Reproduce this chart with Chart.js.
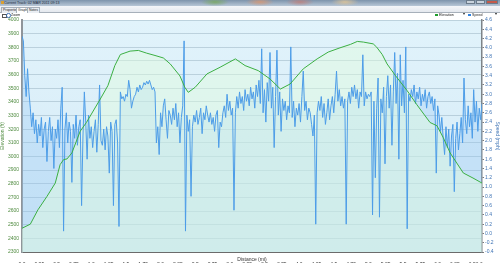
<!DOCTYPE html>
<html>
<head>
<meta charset="utf-8">
<script src="https://cdn.jsdelivr.net/npm/chart.js@4.4.1/dist/chart.umd.min.js"></script>
<style>
  html, body { margin: 0; padding: 0; background: #fff; overflow: hidden; }
  #wrap { position: relative; width: 500px; height: 263px; font-family: "Liberation Sans", Arial, sans-serif; }
  #chart { position: absolute; left: 0; top: 0; }
  #titlebar {
    position: absolute; left: 0; top: 0; width: 500px; height: 6px;
    background:
      radial-gradient(ellipse 14px 4px at 215px 2px, rgba(120,170,90,0.8), transparent),
      radial-gradient(ellipse 14px 4px at 260px 2px, rgba(220,150,110,0.8), transparent),
      radial-gradient(ellipse 14px 4px at 300px 2px, rgba(200,120,110,0.7), transparent),
      radial-gradient(ellipse 14px 4px at 345px 2px, rgba(230,200,150,0.8), transparent),
      linear-gradient(#7d93ab, #b7c6d6);
  }
  #titlebar .ttl { position: absolute; left: 4px; top: 0.5px; font-size: 3.6px; color: #1d2a38; }
  #titlebar .ico { position: absolute; left: 1px; top: 1px; width: 2.5px; height: 3px; background: #d9a032; }
  #titlebar .btn { position: absolute; top: 0; width: 9px; height: 4px; background: #c9d3dd; border: 0.5px solid #6b7b8b; box-sizing: border-box; }
  #tabs { position: absolute; left: 0; top: 6px; width: 500px; height: 6px; background: linear-gradient(#f4f6f9, #e4e8ee); border-bottom: 0.5px solid #a7b0ba; }
  #tabs span { position: absolute; top: 0.5px; height: 5px; font-size: 3.4px; line-height: 5px; padding: 0 1px; color: #222; border: 0.5px solid #a7b0ba; border-bottom: none; background: #e9edf2; }
  #tabs span.sel { background: #fff; }
  #tools { position: absolute; left: 0; top: 12px; width: 500px; height: 6px; }
  #tools .chk { position: absolute; left: 2px; top: 1.5px; width: 2.5px; height: 2.5px; border: 0.5px solid #555; }
  #tools .mag { position: absolute; left: 6px; top: 1px; width: 2.5px; height: 2.5px; border: 0.6px solid #3a6fb0; border-radius: 50%; }
  #tools .lbl { position: absolute; top: 0.6px; font-size: 3.6px; color: #222; }
  #tools .sq { position: absolute; top: 1.5px; width: 2.6px; height: 2.6px; }
  #tools .arr { position: absolute; top: 0.2px; font-size: 3.6px; color: #222; }
</style>
</head>
<body>
<div id="wrap">
  <canvas id="chart" width="500" height="263"></canvas>
  <div id="titlebar">
    <span class="ico"></span>
    <span class="ttl">Current Track: 02 MAR 2011 09:13</span>
    <span class="btn" style="left:466px"></span>
    <span class="btn" style="left:476px"></span>
    <span class="btn" style="left:486px; width:12px; background:#c45a4a"></span>
  </div>
  <div id="tabs">
    <span style="left:1px">Properties</span>
    <span class="sel" style="left:16px">Graph</span>
    <span style="left:27px">Notes</span>
  </div>
  <div id="tools">
    <span class="chk"></span>
    <span class="mag"></span>
    <span class="lbl" style="left:11px">Zoom</span>
    <span class="sq" style="left:435px; background:#1d9c2c"></span>
    <span class="lbl" style="left:439px">Elevation</span>
    <span class="arr" style="left:463px">&#9662;</span>
    <span class="sq" style="left:468px; background:#2f82e0"></span>
    <span class="lbl" style="left:472px">Speed</span>
    <span class="arr" style="left:495px">&#9662;</span>
  </div>
</div>
<script>
// elevation profile (miles, feet)
const elevMiles = [0, 0.12, 0.23, 0.36, 0.48, 0.55, 0.60, 0.65, 0.72, 0.84,
  0.93, 1.13, 1.24, 1.34, 1.42, 1.56, 1.68, 1.80, 1.92, 2.04,
  2.14, 2.28, 2.35, 2.40, 2.50, 2.67, 2.86, 3.08, 3.22, 3.41,
  3.58, 3.73, 3.87, 4.06, 4.26, 4.42, 4.59, 4.74, 4.84, 4.93,
  5.07, 5.12, 5.20, 5.27, 5.39, 5.56, 5.70, 5.89, 5.99, 6.08,
  6.18, 6.37, 6.51, 6.64];
const elevFeet = [2474, 2504, 2609, 2707, 2805, 2940, 2977, 2982, 3026, 3185,
  3249, 3421, 3519, 3666, 3747, 3772, 3777, 3757, 3740, 3722,
  3678, 3590, 3507, 3470, 3507, 3605, 3654, 3715, 3666, 3629,
  3568, 3494, 3531, 3642, 3715, 3765, 3796, 3821, 3843, 3838,
  3825, 3801, 3747, 3678, 3593, 3482, 3379, 3249, 3225, 3139,
  3026, 2879, 2842, 2805];

// speed samples (miles, mph)
const speedMiles = [
  0.00, 0.02, 0.04, 0.06, 0.08, 0.10, 0.12, 0.14, 0.16, 0.18,
  0.20, 0.22, 0.24, 0.26, 0.28, 0.30, 0.32, 0.34, 0.36, 0.38,
  0.40, 0.42, 0.44, 0.46, 0.48, 0.50, 0.52, 0.54, 0.56, 0.58,
  0.60, 0.62, 0.64, 0.66, 0.68, 0.70, 0.72, 0.74, 0.76, 0.78,
  0.80, 0.82, 0.84, 0.86, 0.88, 0.90, 0.92, 0.94, 0.96, 0.98,
  1.00, 1.02, 1.04, 1.06, 1.08, 1.10, 1.12, 1.14, 1.16, 1.18,
  1.20, 1.22, 1.24, 1.26, 1.28, 1.30, 1.32, 1.34, 1.36, 1.38,
  1.40, 1.42, 1.44, 1.46, 1.48, 1.50, 1.52, 1.54, 1.56, 1.58,
  1.60, 1.62, 1.64, 1.66, 1.68, 1.70, 1.72, 1.74, 1.76, 1.78,
  1.80, 1.82, 1.84, 1.86, 1.88, 1.90, 1.92, 1.94, 1.96, 1.98,
  2.00, 2.02, 2.04, 2.06, 2.08, 2.10, 2.12, 2.14, 2.16, 2.18,
  2.20, 2.22, 2.24, 2.26, 2.28, 2.30, 2.32, 2.34, 2.36, 2.38,
  2.40, 2.42, 2.44, 2.46, 2.48, 2.50, 2.52, 2.54, 2.56, 2.58,
  2.60, 2.62, 2.64, 2.66, 2.68, 2.70, 2.72, 2.74, 2.76, 2.78,
  2.80, 2.82, 2.84, 2.86, 2.88, 2.90, 2.92, 2.94, 2.96, 2.98,
  3.00, 3.02, 3.04, 3.06, 3.08, 3.10, 3.12, 3.14, 3.16, 3.18,
  3.20, 3.22, 3.24, 3.26, 3.28, 3.30, 3.32, 3.34, 3.36, 3.38,
  3.40, 3.42, 3.44, 3.46, 3.48, 3.50, 3.52, 3.54, 3.56, 3.58,
  3.60, 3.62, 3.64, 3.66, 3.68, 3.70, 3.72, 3.74, 3.76, 3.78,
  3.80, 3.82, 3.84, 3.86, 3.88, 3.90, 3.92, 3.94, 3.96, 3.98,
  4.00, 4.02, 4.04, 4.06, 4.08, 4.10, 4.12, 4.14, 4.16, 4.18,
  4.20, 4.22, 4.24, 4.26, 4.28, 4.30, 4.32, 4.34, 4.36, 4.38,
  4.40, 4.42, 4.44, 4.46, 4.48, 4.50, 4.52, 4.54, 4.56, 4.58,
  4.60, 4.62, 4.64, 4.66, 4.68, 4.70, 4.72, 4.74, 4.76, 4.78,
  4.80, 4.82, 4.84, 4.86, 4.88, 4.90, 4.92, 4.94, 4.96, 4.98,
  5.00, 5.02, 5.04, 5.06, 5.08, 5.10, 5.12, 5.14, 5.16, 5.18,
  5.20, 5.22, 5.24, 5.26, 5.28, 5.30, 5.32, 5.34, 5.36, 5.38,
  5.40, 5.42, 5.44, 5.46, 5.48, 5.50, 5.52, 5.54, 5.56, 5.58,
  5.60, 5.62, 5.64, 5.66, 5.68, 5.70, 5.72, 5.74, 5.76, 5.78,
  5.80, 5.82, 5.84, 5.86, 5.88, 5.90, 5.92, 5.94, 5.96, 5.98,
  6.00, 6.02, 6.04, 6.06, 6.08, 6.10, 6.12, 6.14, 6.16, 6.18,
  6.20, 6.22, 6.24, 6.26, 6.28, 6.30, 6.32, 6.34, 6.36, 6.38,
  6.40, 6.42, 6.44, 6.46, 6.48, 6.50, 6.52, 6.54, 6.56, 6.58,
  6.60, 6.62, 6.64];
const speedMph = [
  4.25, 4.15, 3.40, 2.95, 3.55, 3.05, 2.70, 2.30, 2.60, 2.15,
  2.45, 1.95, 2.35, 2.10, 2.50, 1.85, 2.25, 2.40, 1.55, 2.20,
  2.50, 2.00, 2.30, 1.40, 2.25, 2.05, 2.45, 1.85, 2.70, 3.15,
  0.05, 2.25, 2.60, 1.95, 2.40, 2.20, 1.10, 2.35, 2.05, 2.55,
  1.90, 2.30, 2.45, 0.60, 2.10, 3.05, 2.40, 1.60, 2.55, 2.05,
  2.30, 1.85, 2.20, 2.45, 1.75, 2.35, 3.20, 2.00, 1.90, 2.25,
  1.80, 2.30, 2.10, 1.30, 2.40, 2.20, 0.60, 2.35, 2.45, 1.95,
  0.15, 3.05, 2.90, 2.95, 2.85, 3.00, 2.95, 3.30, 3.10, 2.70,
  2.85, 2.95, 3.00, 3.15, 3.05, 3.20, 3.10, 3.15, 3.25, 3.20,
  3.28, 3.22, 3.30, 3.20, 3.10, 3.15, 3.05, 1.95, 2.30, 1.70,
  2.60, 2.30, 2.75, 2.90, 2.45, 2.05, 2.65, 2.55, 2.35, 2.70,
  2.45, 2.80, 2.30, 2.60, 1.95, 2.50, 2.75, 4.15, 0.05, 2.55,
  2.20, 2.45, 0.80, 2.30, 2.55, 2.40, 2.65, 2.35, 2.50, 2.70,
  2.15, 2.60, 2.45, 2.75, 2.55, 2.40, 2.60, 2.35, 2.50, 2.20,
  2.55, 2.65, 1.85, 2.40, 2.30, 2.60, 2.75, 2.50, 3.00, 2.65,
  2.85, 2.55, 2.70, 0.50, 2.60, 2.95, 2.70, 3.05, 2.80, 2.95,
  2.65, 3.10, 2.85, 3.00, 2.75, 3.15, 2.90, 3.05, 2.70, 3.20,
  2.95, 3.30, 2.80, 3.98, 2.60, 3.10, 2.40, 3.25, 2.85, 3.90,
  2.70, 3.15, 1.85, 2.95, 3.95, 2.55, 3.05, 2.20, 2.90, 2.65,
  2.85, 2.45, 2.75, 2.60, 4.02, 2.50, 2.85, 2.30, 2.70, 2.55,
  2.80, 2.40, 2.95, 3.50, 2.65, 2.85, 2.45, 2.70, 2.60, 2.35,
  2.10, 2.55, 0.20, 2.60, 2.85, 2.65, 2.95, 2.50, 2.80, 2.35,
  2.60, 2.90, 2.45, 2.75, 2.95, 2.60, 3.00, 3.50, 2.85, 3.10,
  2.75, 2.95, 2.70, 2.90, 0.20, 2.85, 3.05, 2.80, 3.15, 2.95,
  3.20, 2.90, 3.10, 2.70, 3.05, 2.95, 3.85, 2.75, 3.05, 2.90,
  3.00, 2.95, 3.05, 0.40, 2.85, 1.20, 2.70, 3.35, 0.35, 2.90,
  2.60, 3.15, 1.50, 2.95, 3.40, 2.70, 3.20, 1.90, 3.05, 3.90,
  2.80, 3.45, 1.60, 3.85, 2.75, 3.30, 2.60, 4.02, 0.10, 3.00,
  2.85, 3.10, 2.95, 3.20, 2.80, 3.05, 2.90, 3.15, 2.75, 3.00,
  2.85, 3.10, 2.70, 2.95, 3.05, 2.80, 2.95, 2.65, 2.90, 1.30,
  2.75, 2.55, 2.20, 2.50, 2.05, 1.70, 2.30, 1.85, 2.25, 1.45,
  2.10, 2.35, 0.90, 2.05, 2.40, 1.80, 2.15, 2.50, 1.95, 3.35,
  2.45, 2.15, 2.75, 2.30, 2.60, 2.05, 3.10, 2.40, 2.85, 2.20,
  2.70, 2.45, 2.80];

// distance axis labels
const xTicks = [0, 0.25, 0.5, 0.75, 1, 1.25, 1.5, 1.75, 2, 2.25, 2.5, 2.75, 3, 3.25,
  3.5, 3.75, 4, 4.25, 4.5, 4.75, 5, 5.25, 5.5, 5.75, 6, 6.25, 6.5, 6.6];

const fontFamily = '"Liberation Sans", Arial, sans-serif';
const tickFont = { size: 5, family: fontFamily };
const green = '#4e8a3e';
const blue = '#3f74b5';

// light blue plot background
const plotBackground = {
    id: 'plotBackground',
    beforeDraw(chart) {
        const { ctx, chartArea: a } = chart;
        const g = ctx.createLinearGradient(0, a.top, 0, a.bottom);
        g.addColorStop(0, '#e1f3fb');
        g.addColorStop(1, '#d3e9f6');
        ctx.save();
        ctx.fillStyle = g;
        ctx.fillRect(a.left, a.top, a.right - a.left, a.bottom - a.top);
        ctx.restore();
    }
};

const ctx = document.getElementById('chart').getContext('2d');
new Chart(ctx, {
    type: 'line',
    data: {
        datasets: [
            {
                label: 'Elevation',
                data: elevMiles.map((m, i) => ({ x: m, y: elevFeet[i] })),
                yAxisID: 'y',
                borderColor: '#3cb043',
                borderWidth: 1,
                backgroundColor: 'rgba(226, 252, 222, 0.45)',
                fill: 'start',
                pointRadius: 0,
                tension: 0
            },
            {
                label: 'Speed',
                data: speedMiles.map((m, i) => ({ x: m, y: speedMph[i] })),
                yAxisID: 'y1',
                borderColor: '#4d9de8',
                borderWidth: 1,
                backgroundColor: 'rgba(150, 200, 245, 0.3)',
                fill: 'start',
                pointRadius: 0,
                tension: 0
            }
        ]
    },
    options: {
        responsive: false,
        animation: false,
        devicePixelRatio: 1,
        layout: { padding: { top: 20, left: 0, right: 0, bottom: 0 } },
        plugins: {
            legend: { display: false },
            tooltip: { enabled: false },
            filler: { drawTime: 'beforeDatasetsDraw' }
        },
        scales: {
            x: {
                type: 'linear',
                min: 0,
                max: 6.64,
                grid: { display: false },
                border: { display: true, color: '#6b6b6b', width: 1 },
                ticks: {
                    font: tickFont,
                    color: '#333',
                    padding: 2,
                    maxRotation: 0,
                    autoSkip: false,
                    callback: v => Number.isInteger(v) ? v.toFixed(1) : String(v)
                },
                afterBuildTicks: axis => { axis.ticks = xTicks.map(v => ({ value: v })); },
                afterFit: axis => { axis.height = 11; },
                title: { display: true, text: 'Distance (mi)', font: tickFont, color: '#333', padding: 0 }
            },
            y: {
                position: 'left',
                min: 2300,
                max: 4000,
                grid: { color: 'rgba(120, 150, 165, 0.35)', drawTicks: false },
                border: { color: '#8f959a', width: 2 },
                ticks: {
                    stepSize: 100,
                    font: tickFont,
                    color: green,
                    padding: 3,
                    autoSkip: false,
                    callback: v => String(v)
                },
                afterFit: axis => { axis.width = 22; },
                title: { display: true, text: 'Elevation (ft)', font: tickFont, color: green, padding: 0 }
            },
            y1: {
                position: 'right',
                min: -0.4,
                max: 4.6,
                grid: { drawOnChartArea: false, tickLength: 2, color: '#777' },
                border: { color: '#7d8489', width: 1.5 },
                ticks: {
                    stepSize: 0.2,
                    font: tickFont,
                    color: blue,
                    padding: 1,
                    autoSkip: false,
                    callback: v => (Math.abs(v) < 1e-9 ? 0 : v).toFixed(1)
                },
                afterFit: axis => { axis.width = 18; },
                title: { display: true, text: 'Speed (mph)', font: tickFont, color: blue, padding: 0 }
            }
        }
    },
    plugins: [plotBackground]
});
</script>
</body>
</html>
